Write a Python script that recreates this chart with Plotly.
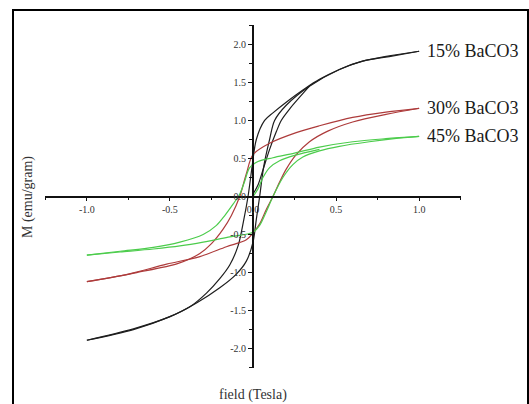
import plotly.graph_objects as go

# ---------------- data ----------------
# 15% BaCO3 (black)
h15_desc = [1.0, 0.82, 0.66, 0.52, 0.40, 0.32, 0.20, 0.12, 0.07, 0.02, -0.005, -0.03, -0.055, -0.09, -0.14, -0.20, -0.28, -0.38, -0.50, -0.72, -1.0]
m15_desc = [1.91, 1.84, 1.78, 1.67, 1.54, 1.43, 1.24, 1.10, 1.00, 0.75, 0.40, 0.0, -0.30, -0.65, -0.90, -1.08, -1.27, -1.45, -1.58, -1.75, -1.89]
h15_asc = [-1.0, -0.72, -0.50, -0.34, -0.20, -0.10, -0.04, 0.0, 0.02, 0.04, 0.065, 0.10, 0.13, 0.20, 0.34, 0.52, 0.66, 0.82, 1.0]
m15_asc = [-1.89, -1.74, -1.58, -1.40, -1.20, -1.02, -0.85, -0.60, -0.30, 0.0, 0.40, 0.75, 1.00, 1.20, 1.45, 1.67, 1.78, 1.85, 1.91]
h15_virgin = [0.005, 0.03, 0.06, 0.10, 0.14, 0.17, 0.22, 0.34]
m15_virgin = [0.05, 0.15, 0.35, 0.62, 0.85, 1.00, 1.15, 1.45]

# 30% BaCO3 (red)
h30_desc = [1.0, 0.8, 0.6, 0.4, 0.26, 0.10, 0.0, -0.04, -0.08, -0.13, -0.18, -0.25, -0.32, -0.45, -0.7, -1.0]
m30_desc = [1.16, 1.11, 1.04, 0.93, 0.84, 0.70, 0.55, 0.30, 0.0, -0.25, -0.43, -0.62, -0.75, -0.88, -1.00, -1.12]
h30_asc = [-1.0, -0.75, -0.52, -0.32, -0.16, -0.04, 0.0, 0.04, 0.08, 0.12, 0.16, 0.20, 0.26, 0.34, 0.45, 0.6, 0.8, 1.0]
m30_asc = [-1.12, -1.02, -0.89, -0.79, -0.66, -0.57, -0.48, -0.36, -0.17, 0.0, 0.19, 0.36, 0.55, 0.72, 0.86, 0.98, 1.08, 1.16]

# 45% BaCO3 (green)
h45_desc = [1.0, 0.8, 0.6, 0.4, 0.25, 0.12, 0.03, -0.02, -0.05, -0.08, -0.12, -0.17, -0.22, -0.30, -0.44, -0.6, -0.8, -1.0]
m45_desc = [0.79, 0.76, 0.72, 0.65, 0.57, 0.51, 0.46, 0.38, 0.20, 0.03, -0.10, -0.25, -0.38, -0.50, -0.60, -0.67, -0.72, -0.77]
h45_asc = [-1.0, -0.8, -0.6, -0.44, -0.30, -0.14, 0.0, 0.04, 0.08, 0.12, 0.18, 0.24, 0.30, 0.40, 0.52, 0.70, 0.85, 1.0]
m45_asc = [-0.77, -0.73, -0.69, -0.65, -0.60, -0.53, -0.47, -0.38, -0.20, 0.0, 0.25, 0.42, 0.52, 0.60, 0.66, 0.72, 0.76, 0.79]
h45_virgin = [0.0, 0.03, 0.06, 0.10, 0.16, 0.25, 0.40]
m45_virgin = [0.0, 0.10, 0.25, 0.38, 0.47, 0.54, 0.62]

labels = ["15% BaCO3", "30% BaCO3", "45% BaCO3"]
label_y = [1.91, 1.16, 0.80]

x_tickvals = [-1.0, -0.5, 0.0, 0.5, 1.0]
x_ticktext = ["-1.0", "-0.5", "0.0", "0.5", "1.0"]
y_tickvals = [-2.0, -1.5, -1.0, -0.5, 0.0, 0.5, 1.0, 1.5, 2.0]
y_ticktext = ["-2.0", "-1.5", "-1.0", "-0.5", "0.0", "0.5", "1.0", "1.5", "2.0"]

x_title = "field (Tesla)"
y_title = "M (emu/gram)"

# ---------------- styling ----------------
colors = ["#1e1e1e", "#ad3b3b", "#4ccc4c"]
serif = "Liberation Serif, Times New Roman, serif"
W, H = 529, 404
ML, MR, MT, MB = 45, 68, 25, 36
XR = [-1.252, 1.252]
YR = [-2.255, 2.255]

fig = go.Figure()

series = [
    (colors[0], [(h15_desc, m15_desc), (h15_asc, m15_asc), (h15_virgin, m15_virgin)]),
    (colors[1], [(h30_desc, m30_desc), (h30_asc, m30_asc)]),
    (colors[2], [(h45_desc, m45_desc), (h45_asc, m45_asc), (h45_virgin, m45_virgin)]),
]
for col, branches in series:
    for hx, my in branches:
        fig.add_trace(go.Scatter(
            x=hx, y=my, mode="lines",
            line=dict(color=col, width=1.2, shape="spline", smoothing=0.9),
            showlegend=False, hoverinfo="skip"))

for i, txt in enumerate(labels):
    fig.add_annotation(x=1.0, y=label_y[i], xref="x", yref="y", text=txt,
                       showarrow=False, xanchor="left", yanchor="middle", xshift=6,
                       font=dict(family=serif, size=18, color="#1a1a1a"))

pw = W - ML - MR
ph = H - MT - MB

def px_to_paper_x(px):
    return (px - ML) / pw

def px_to_paper_y(py):
    return (H - MB - py) / ph

# axis titles placed as annotations (axes cross at origin)
fig.add_annotation(x=0.5, y=px_to_paper_y(395), xref="paper", yref="paper", text=x_title,
                   showarrow=False, xanchor="center", yanchor="middle",
                   font=dict(family=serif, size=14, color="#333"))
fig.add_annotation(x=px_to_paper_x(28), y=px_to_paper_y(197), xref="paper", yref="paper",
                   text=y_title, textangle=-90, showarrow=False, xanchor="center",
                   yanchor="middle", font=dict(family=serif, size=14, color="#333"))

# outer frame
fig.add_shape(type="rect", xref="paper", yref="paper",
              x0=px_to_paper_x(13), x1=px_to_paper_x(528),
              y0=px_to_paper_y(430), y1=px_to_paper_y(10),
              line=dict(color="black", width=2), fillcolor="rgba(0,0,0,0)", layer="above")

xpos = (0 - YR[0]) / (YR[1] - YR[0])
ypos = (0 - XR[0]) / (XR[1] - XR[0])

fig.update_layout(
    width=W, height=H,
    margin=dict(l=ML, r=MR, t=MT, b=MB, pad=0),
    paper_bgcolor="white", plot_bgcolor="white",
    xaxis=dict(range=XR, anchor="free", position=xpos, showline=True, linecolor="#111",
               linewidth=1.5, showgrid=False, zeroline=False,
               tickmode="array", tickvals=x_tickvals, ticktext=x_ticktext,
               ticks="outside", ticklen=4, tickwidth=1.3, tickcolor="#111",
               minor=dict(dtick=0.25, tick0=0, ticks="outside", ticklen=3, tickwidth=1.2,
                          tickcolor="#111", showgrid=False),
               tickfont=dict(family=serif, size=10, color="#333")),
    yaxis=dict(range=YR, anchor="free", position=ypos, showline=True, linecolor="#111",
               linewidth=2, showgrid=False, zeroline=False,
               tickmode="array", tickvals=y_tickvals, ticktext=y_ticktext,
               ticks="outside", ticklen=4, tickwidth=1.3, tickcolor="#111",
               minor=dict(dtick=0.25, tick0=0, ticks="outside", ticklen=3, tickwidth=1.2,
                          tickcolor="#111", showgrid=False),
               tickfont=dict(family=serif, size=10, color="#333")),
)

fig.write_html("out.html")
